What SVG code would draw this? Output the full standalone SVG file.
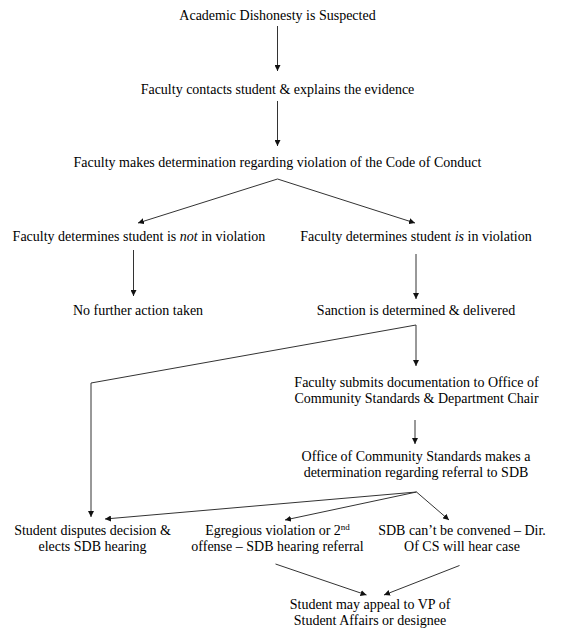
<svg xmlns="http://www.w3.org/2000/svg" width="573" height="642" viewBox="0 0 573 642">
<defs>
<style>
text{font-family:"Liberation Serif","Times New Roman","DejaVu Serif",serif;font-size:14px;fill:#000;text-anchor:middle}
.c line,.c path{stroke:#333;stroke-width:1;fill:none}
.i{font-style:italic}
</style>
<marker id="a" markerUnits="userSpaceOnUse" markerWidth="7" markerHeight="6" refX="6" refY="3" orient="auto">
<path d="M0,0 L6,3 L0,6 z" fill="#111"/>
</marker>
</defs>
<rect width="573" height="642" fill="#fff"/>
<g class="c">
<line x1="277.5" y1="26" x2="277.5" y2="71" marker-end="url(#a)"/>
<line x1="277.5" y1="101" x2="277.5" y2="146" marker-end="url(#a)"/>
<line x1="277.5" y1="179" x2="138" y2="223" marker-end="url(#a)"/>
<line x1="277.5" y1="179" x2="415" y2="223" marker-end="url(#a)"/>
<line x1="133.5" y1="250" x2="133.5" y2="296" marker-end="url(#a)"/>
<line x1="416" y1="254" x2="416" y2="299" marker-end="url(#a)"/>
<line x1="416" y1="325" x2="416" y2="366" marker-end="url(#a)"/>
<path d="M416,325 L91,383 L91,517" marker-end="url(#a)"/>
<line x1="415" y1="420" x2="415" y2="444" marker-end="url(#a)"/>
<line x1="416.5" y1="492" x2="105" y2="519" marker-end="url(#a)"/>
<line x1="416.5" y1="492" x2="285" y2="520" marker-end="url(#a)"/>
<line x1="416.5" y1="492" x2="449" y2="520" marker-end="url(#a)"/>
<line x1="275.5" y1="564" x2="366.5" y2="595" marker-end="url(#a)"/>
<line x1="459.5" y1="565.5" x2="384" y2="595" marker-end="url(#a)"/>
</g>
<g id="n1"><text x="277.5" y="20">Academic Dishonesty is Suspected</text></g>
<g id="n2"><text x="277.5" y="94">Faculty contacts student &amp; explains the evidence</text></g>
<g id="n3"><text x="277.5" y="167">Faculty makes determination regarding violation of the Code of Conduct</text></g>
<g id="n4"><text x="139" y="241">Faculty determines student is <tspan class="i">not</tspan> in violation</text></g>
<g id="n5"><text x="416" y="241">Faculty determines student <tspan class="i">is</tspan> in violation</text></g>
<g id="n6"><text x="138" y="315">No further action taken</text></g>
<g id="n7"><text x="416" y="315">Sanction is determined &amp; delivered</text></g>
<g id="n8"><text x="416.5" y="387">Faculty submits documentation to Office of</text><text x="416.5" y="403">Community Standards &amp; Department Chair</text></g>
<g id="n9"><text x="416" y="461">Office of Community Standards makes a</text><text x="416" y="477">determination regarding referral to SDB</text></g>
<g id="n10"><text x="92.5" y="535">Student disputes decision &amp;</text><text x="92.5" y="551">elects SDB hearing</text></g>
<g id="n11"><text x="277.5" y="535">Egregious violation or 2<tspan font-size="9" dy="-5">nd</tspan></text><text x="277.5" y="551">offense – SDB hearing referral</text></g>
<g id="n12"><text x="462" y="535">SDB can’t be convened – Dir.</text><text x="462" y="551">Of CS will hear case</text></g>
<g id="n13"><text x="370" y="609">Student may appeal to VP of</text><text x="370" y="625">Student Affairs or designee</text></g>
</svg>
